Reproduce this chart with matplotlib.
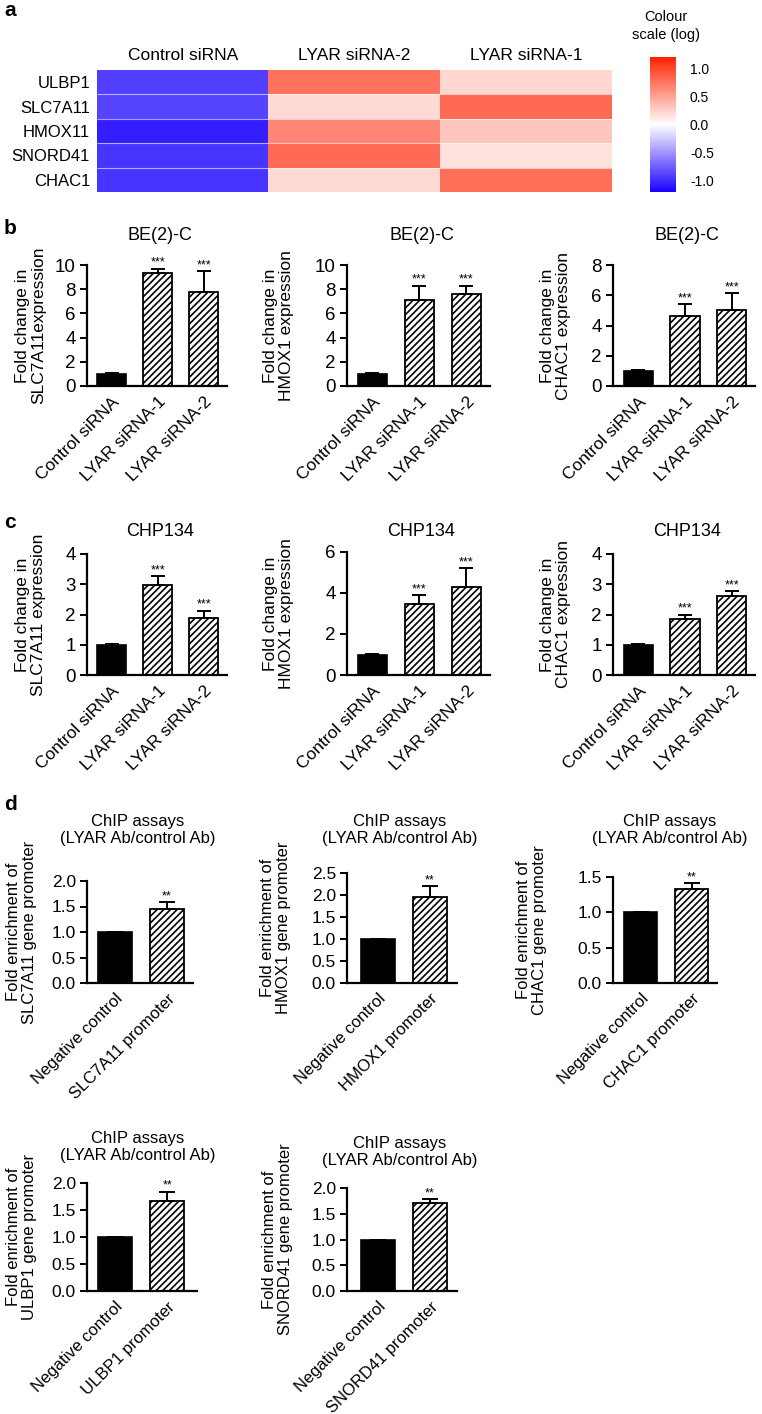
import numpy as np
import matplotlib
matplotlib.use('Agg')
import matplotlib.pyplot as plt
from matplotlib.colors import LinearSegmentedColormap

plt.rcParams['font.family'] = ['Liberation Sans', 'DejaVu Sans']
plt.rcParams['axes.unicode_minus'] = False
plt.rcParams['hatch.linewidth'] = 1.2

W, H = 762, 1414

# ---- data ----
genes = ['ULBP1', 'SLC7A11', 'HMOX11', 'SNORD41', 'CHAC1']
conditions = ['Control siRNA', 'LYAR siRNA-2', 'LYAR siRNA-1']
heat = np.array([[-0.90, 0.75, 0.22],
                 [-0.88, 0.20, 0.80],
                 [-1.05, 0.65, 0.30],
                 [-0.95, 0.80, 0.15],
                 [-0.95, 0.20, 0.78]])
cbar_ticks = [-1.0, -0.5, 0.0, 0.5, 1.0]
cbar_labels = ['-1.0', '-0.5', '0.0', '0.5', '1.0']

sirna = ['Control siRNA', 'LYAR siRNA-1', 'LYAR siRNA-2']

be2c_slc = [1.0, 9.3, 7.8]
be2c_slc_err = [0.05, 0.4, 1.7]
be2c_hmox = [1.0, 7.1, 7.6]
be2c_hmox_err = [0.05, 1.2, 0.7]
be2c_chac = [1.0, 4.6, 5.0]
be2c_chac_err = [0.05, 0.8, 1.15]

chp_slc = [1.0, 2.97, 1.88]
chp_slc_err = [0.03, 0.3, 0.25]
chp_hmox = [1.0, 3.45, 4.3]
chp_hmox_err = [0.03, 0.45, 0.9]
chp_chac = [1.0, 1.85, 2.6]
chp_chac_err = [0.03, 0.14, 0.17]

stars3 = ['', '***', '***']
stars2 = ['', '**']

chip_slc = [1.0, 1.46]
chip_slc_err = [0.0, 0.12]
chip_hmox = [1.0, 1.95]
chip_hmox_err = [0.0, 0.25]
chip_chac = [1.0, 1.33]
chip_chac_err = [0.0, 0.08]
chip_ulbp = [1.0, 1.67]
chip_ulbp_err = [0.0, 0.17]
chip_snord = [1.0, 1.70]
chip_snord_err = [0.0, 0.08]

fig = plt.figure(figsize=(W / 100, H / 100), dpi=100)


def px_axes(x0, y0, x1, y1):
    return fig.add_axes([x0 / W, 1 - y1 / H, (x1 - x0) / W, (y1 - y0) / H])


def ftext(x, y, s, **kw):
    fig.text(x / W, 1 - y / H, s, **kw)


# ---- panel a: heatmap ----
cmap = LinearSegmentedColormap.from_list('bwr2', ['#1a00ff', '#ffffff', '#ff2200'])
ax = px_axes(97, 70, 612, 192)
im = ax.imshow(heat, cmap=cmap, vmin=-1.2, vmax=1.2, aspect='auto', interpolation='nearest')
ax.hlines(np.arange(0.5, len(genes) - 0.5), -0.5, len(conditions) - 0.5,
          color='white', lw=0.8, alpha=0.6)
ax.xaxis.tick_top()
ax.set_xticks(range(len(conditions)), conditions, fontsize=12.5)
ax.set_yticks(range(len(genes)), genes, fontsize=12)
ax.tick_params(length=0, pad=5)
for s in ax.spines.values():
    s.set_visible(False)

cax = px_axes(650, 57, 676, 192)
cb = fig.colorbar(im, cax=cax, ticks=cbar_ticks)
cb.ax.set_yticklabels(cbar_labels, fontsize=10)
cb.ax.tick_params(length=0, pad=10)
cb.outline.set_visible(False)
ftext(666, 26, 'Colour\nscale (log)', ha='center', va='center', fontsize=10.5,
      linespacing=1.3)

ftext(4, 10, 'a', fontsize=15, fontweight='bold', va='center')
ftext(4, 228, 'b', fontsize=15, fontweight='bold', va='center')
ftext(4, 522, 'c', fontsize=15, fontweight='bold', va='center')
ftext(4, 805, 'd', fontsize=15, fontweight='bold', va='center')


def bar_panel(box, vals, errs, stars, ymax, step, labels, ylabel, ylab_right,
              fmt, tick_fs, lab_fs, xt_fs, width, xlim, capsize):
    x0, y0, x1, y1 = box
    ax = px_axes(*box)
    x = np.arange(len(vals))
    ax.bar(x[0], vals[0], width, color='black', edgecolor='black', lw=1.2)
    ax.bar(x[1:], vals[1:], width, color='white', edgecolor='black',
           hatch='/////', lw=1.3)
    ax.errorbar(x, vals, yerr=[np.zeros(len(vals)), errs], fmt='none',
                ecolor='black', elinewidth=1.4, capsize=capsize, capthick=1.4)
    for xi, v, e, s in zip(x, vals, errs, stars):
        if s:
            ax.text(xi, v + e, s, ha='center', va='bottom', fontsize=9)
    ax.set_ylim(0, ymax)
    ax.set_xlim(*xlim)
    ticks = np.arange(0, ymax + step / 2, step)
    ax.set_yticks(ticks, [fmt.format(t) for t in ticks], fontsize=tick_fs)
    ax.set_xticks(x, labels, rotation=45, ha='right', rotation_mode='anchor',
                  fontsize=xt_fs)
    ax.tick_params(axis='x', length=0, pad=6)
    ax.tick_params(axis='y', length=5, width=1.4, pad=3)
    for s in ['top', 'right']:
        ax.spines[s].set_visible(False)
    for s in ['left', 'bottom']:
        ax.spines[s].set_linewidth(1.6)
    ax.set_ylabel(ylabel, fontsize=lab_fs, linespacing=1.05)
    ax.yaxis.set_label_coords((ylab_right - x0) / (x1 - x0), 0.5)
    ax.patch.set_alpha(0)
    return ax


# ---- panel b ----
bx = [(87, 265, 227, 386), (347, 265, 490, 386), (613, 265, 755, 386)]
b_sets = [(be2c_slc, be2c_slc_err, 10, 2, 'Fold change in\nSLC7A11expression', 46),
          (be2c_hmox, be2c_hmox_err, 10, 2, 'Fold change in\nHMOX1 expression', 294),
          (be2c_chac, be2c_chac_err, 8, 2, 'Fold change in\nCHAC1 expression', 571)]
for box, (v, e, ym, st, yl, yr) in zip(bx, b_sets):
    bar_panel(box, v, e, stars3, ym, st, sirna, yl, yr, '{:.0f}', 13.5, 12.5, 12.5,
              0.63, (-0.54, 2.5), 5)
    ftext((box[0] + box[2]) / 2 + 3, 236, 'BE(2)-C', ha='center', va='center', fontsize=13)

# ---- panel c ----
cx = [(87, 554, 227, 675), (347, 552, 490, 675), (613, 554, 755, 675)]
c_sets = [(chp_slc, chp_slc_err, 4, 1, 'Fold change in\nSLC7A11 expression', 46),
          (chp_hmox, chp_hmox_err, 6, 2, 'Fold change in\nHMOX1 expression', 294),
          (chp_chac, chp_chac_err, 4, 1, 'Fold change in\nCHAC1 expression', 571)]
for box, (v, e, ym, st, yl, yr) in zip(cx, c_sets):
    bar_panel(box, v, e, stars3, ym, st, sirna, yl, yr, '{:.0f}', 13.5, 12.5, 12.5,
              0.63, (-0.54, 2.5), 5)
    ftext((box[0] + box[2]) / 2 + 3, 532, 'CHP134', ha='center', va='center', fontsize=13)

# ---- panel d ----
chip_title = 'ChIP assays\n(LYAR Ab/control Ab)'
d_sets = [((87, 881, 193, 983), chip_slc, chip_slc_err, 2.0, 'SLC7A11', 37, (138, 830), (-0.54, 1.5)),
          ((347, 873, 457, 983), chip_hmox, chip_hmox_err, 2.5, 'HMOX1', 291, (400, 830), (-0.6, 1.52)),
          ((613, 877, 717, 983), chip_chac, chip_chac_err, 1.5, 'CHAC1', 547, (670, 830), (-0.54, 1.5)),
          ((87, 1183, 197, 1291), chip_ulbp, chip_ulbp_err, 2.0, 'ULBP1', 37, (138, 1147), (-0.54, 1.57)),
          ((347, 1188, 457, 1291), chip_snord, chip_snord_err, 2.0, 'SNORD41', 293, (400, 1152), (-0.6, 1.52))]
for box, v, e, ym, gene, yr, tpos, xl in d_sets:
    labels = ['Negative control', gene + ' promoter']
    bar_panel(box, v, e, stars2, ym, 0.5, labels,
              'Fold enrichment of\n' + gene + ' gene promoter', yr, '{:.1f}',
              12.5, 12, 12, 0.65, xl, 6)
    ftext(tpos[0], tpos[1], chip_title, ha='center', va='center', fontsize=12,
          linespacing=1.15)

fig.savefig('out.png', dpi=100)
